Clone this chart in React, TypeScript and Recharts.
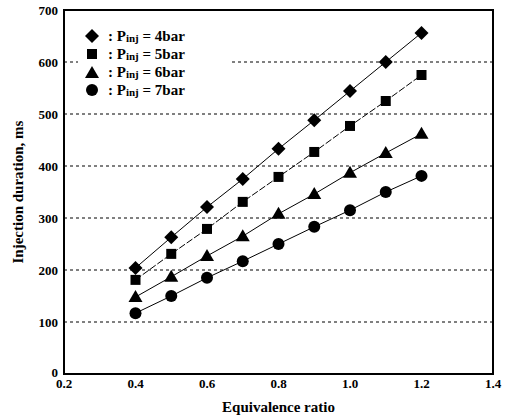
import { LineChart, Line, XAxis, YAxis, CartesianGrid, ReferenceArea, Label } from 'recharts';

const ratios = [0.4, 0.5, 0.6, 0.7, 0.8, 0.9, 1.0, 1.1, 1.2];
const p4bar = [204, 263, 321, 375, 433, 488, 544, 600, 656];
const p5bar = [181, 231, 279, 331, 379, 427, 477, 525, 575];
const p6bar = [148, 187, 227, 265, 308, 346, 387, 425, 462];
const p7bar = [117, 150, 185, 217, 250, 283, 315, 350, 381];

const xTicks = [0.2, 0.4, 0.6, 0.8, 1.0, 1.2, 1.4];
const yTicks = [0, 100, 200, 300, 400, 500, 600, 700];

const data = ratios.map((r, i) => ({ r, p4: p4bar[i], p5: p5bar[i], p6: p6bar[i], p7: p7bar[i] }));

const FONT = '"Liberation Serif", "Times New Roman", serif';

const Diamond = (props: any) => {
  const { cx, cy } = props;
  if (cx == null || cy == null) return null;
  return <polygon points={`${cx},${cy - 7} ${cx + 7},${cy} ${cx},${cy + 7} ${cx - 7},${cy}`} fill="#000" />;
};
const Square = (props: any) => {
  const { cx, cy } = props;
  if (cx == null || cy == null) return null;
  return <rect x={cx - 5} y={cy - 5} width={10} height={10} fill="#000" />;
};
const Triangle = (props: any) => {
  const { cx, cy } = props;
  if (cx == null || cy == null) return null;
  return <polygon points={`${cx},${cy - 7} ${cx + 7},${cy + 5} ${cx - 7},${cy + 5}`} fill="#000" />;
};
const Circle = (props: any) => {
  const { cx, cy } = props;
  if (cx == null || cy == null) return null;
  return <circle cx={cx} cy={cy} r={6} fill="#000" />;
};

// y tick: nudge the "0" up a little so it clears the 0.2 below it
const YTick = (props: any) => {
  const { x, y, payload } = props;
  const dy = payload.value === 0 ? -2 : 0;
  return (
    <text x={x} y={y + dy} dy="0.355em" textAnchor="end" fill="#000" fontSize={13} fontWeight="bold" fontFamily={FONT}>
      {payload.value}
    </text>
  );
};

const legendItems = [
  { shape: 'diamond', label: '4bar' },
  { shape: 'square', label: '5bar' },
  { shape: 'triangle', label: '6bar' },
  { shape: 'circle', label: '7bar' },
];

function LegendIcon({ shape }: { shape: string }) {
  return (
    <svg width={16} height={16} style={{ display: 'block' }}>
      {shape === 'diamond' && <Diamond cx={8} cy={8} />}
      {shape === 'square' && <Square cx={8} cy={8} />}
      {shape === 'triangle' && <Triangle cx={8} cy={9} />}
      {shape === 'circle' && <Circle cx={8} cy={8} />}
    </svg>
  );
}

export default function App() {
  return (
    <div style={{ position: 'absolute', left: 0, top: 0, width: 505, height: 420, background: '#fff' }}>
      <LineChart width={505} height={420} data={data} margin={{ top: 10, right: 12, left: 0, bottom: 0 }}>
        <CartesianGrid horizontal vertical={false} stroke="#000" strokeDasharray="3 3" />
        <XAxis
          dataKey="r"
          type="number"
          domain={[0.2, 1.4]}
          ticks={xTicks}
          tickFormatter={(v: number) => v.toFixed(1)}
          axisLine={false}
          tickLine={false}
          tickSize={3}
          height={46}
          tick={{ fill: '#000', fontSize: 13, fontWeight: 'bold', fontFamily: FONT }}
        >
          <Label value="Equivalence ratio" position="insideBottom" offset={8} fill="#000" fontSize={15} fontWeight="bold" fontFamily={FONT} />
        </XAxis>
        <YAxis
          type="number"
          domain={[0, 700]}
          ticks={yTicks}
          axisLine={false}
          tickLine={false}
          tickSize={4}
          width={64}
          tick={<YTick />}
        >
          <Label value="Injection duration, ms" angle={-90} position="insideLeft" offset={18} style={{ textAnchor: 'middle' }} fill="#000" fontSize={15} fontWeight="bold" fontFamily={FONT} />
        </YAxis>
        <ReferenceArea x1={0.2} x2={1.4} y1={0} y2={700} fill="none" stroke="#000" strokeWidth={2} fillOpacity={0} />
        <Line dataKey="p4" stroke="#000" strokeWidth={1} dot={<Diamond />} isAnimationActive={false} />
        <Line dataKey="p5" stroke="#000" strokeWidth={1} strokeDasharray="7 2" dot={<Square />} isAnimationActive={false} />
        <Line dataKey="p6" stroke="#000" strokeWidth={1} dot={<Triangle />} isAnimationActive={false} />
        <Line dataKey="p7" stroke="#000" strokeWidth={1} dot={<Circle />} isAnimationActive={false} />
      </LineChart>
      <div
        style={{
          position: 'absolute',
          left: 78,
          top: 25,
          width: 147,
          background: '#fff',
          fontFamily: FONT,
          fontWeight: 'bold',
          fontSize: 15,
          color: '#000',
          lineHeight: '18px',
          padding: '2px 0 2px 6px',
        }}
      >
        {legendItems.map((it) => (
          <div key={it.label} style={{ display: 'flex', alignItems: 'center', height: 18 }}>
            <LegendIcon shape={it.shape} />
            <span style={{ marginLeft: 8 }}>
              : P<span style={{ fontSize: 11, position: 'relative', top: 1 }}>inj</span> = {it.label}
            </span>
          </div>
        ))}
      </div>
    </div>
  );
}
